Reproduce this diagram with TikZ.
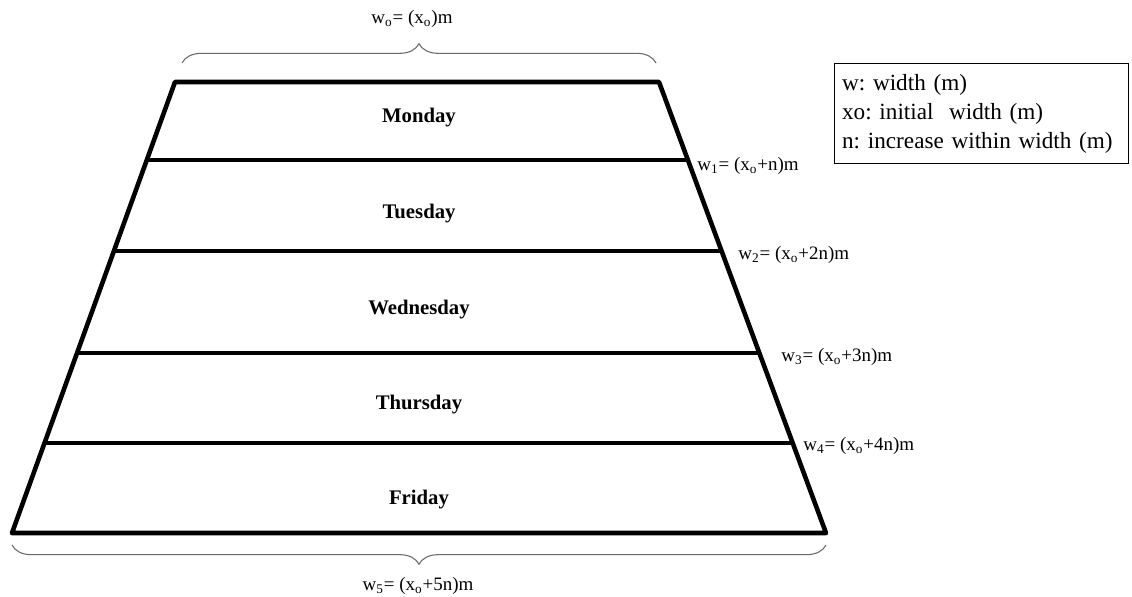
\documentclass[tikz,border=0pt]{standalone}
\usepackage{fontspec}
\setmainfont{Liberation Serif}
\usetikzlibrary{calc,decorations.pathreplacing}
\definecolor{bracegray}{RGB}{105,105,105}
\frenchspacing

\begin{document}
\begin{tikzpicture}[x=0.02cm, y=-0.02cm,
    wall/.style={line width=2.6pt, line join=round},
    day/.style={font=\bfseries\fontsize{11.8}{13}\selectfont},
    wlabel/.style={font=\fontsize{10.8}{12}\selectfont, anchor=west, inner sep=0pt},
    curly/.style={bracegray, line width=0.6pt, decorate,
      decoration={brace, amplitude=11pt, aspect=0.5}}]
    \useasboundingbox (0,0) rectangle (1132,597);
    % corners of the trapezoid
    \coordinate (tl) at (175,82);
    \coordinate (tr) at (659,82);
    \coordinate (bl) at (12,533);
    \coordinate (br) at (826,533);
    \draw[wall] (tl) -- (tr) -- (br) -- (bl) -- cycle;
    % day dividers
    \foreach \t [count=\i] in {0.173, 0.375, 0.601, 0.800} {
      \coordinate (l\i) at ($(tl)!\t!(bl)$);
      \coordinate (r\i) at ($(tr)!\t!(br)$);
      \draw[wall] (l\i) -- (r\i);
    }
    \node[day] (mon) at (419,118) {Monday};
    \node[day] (tue) at (419,214) {Tuesday};
    \node[day] (wed) at (419,310) {Wednesday};
    \node[day] (thu) at (419,405) {Thursday};
    \node[day] (fri) at (419,500) {Friday};
    % widths
    \node[wlabel] (w1) at (697,166) {w\textsubscript{1}= (x\textsubscript{o}+n)m};
    \node[wlabel] (w2) at (738,255) {w\textsubscript{2}= (x\textsubscript{o}+2n)m};
    \node[wlabel] (w3) at (781,357) {w\textsubscript{3}= (x\textsubscript{o}+3n)m};
    \node[wlabel] (w4) at (803,446) {w\textsubscript{4}= (x\textsubscript{o}+4n)m};
    \draw[curly] (182,63) -- (656,63);
    \node[font=\fontsize{10.8}{12}\selectfont] (w0) at (412,19) {w\textsubscript{o}= (x\textsubscript{o})m};
    \draw[curly] (826,545) -- (12,545);
    \node[font=\fontsize{10.8}{12}\selectfont] (w5) at (418,586) {w\textsubscript{5}= (x\textsubscript{o}+5n)m};
    % key
    \node[draw, line width=0.7pt, anchor=north west, minimum width=5.88cm, minimum height=2cm,
      text width=5.58cm, inner xsep=0.15cm, align=left,
      font=\fontsize{13.2}{16.5}\selectfont] (key) at (834,63)
      {w: width (m)\\xo: initial\ \ width (m)\\n: increase within width (m)};
  \end{tikzpicture}
\end{document}
